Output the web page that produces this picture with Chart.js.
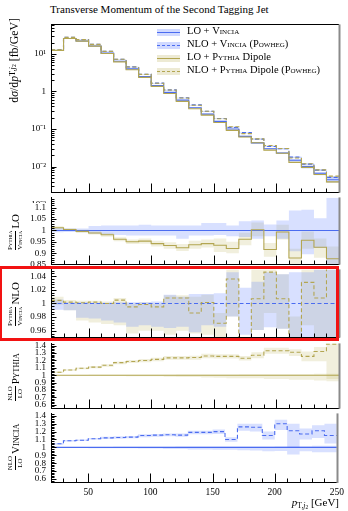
<!DOCTYPE html>
<html>
<head>
<meta charset="utf-8">
<script src="https://cdn.jsdelivr.net/npm/chart.js@4.4.1/dist/chart.umd.min.js"></script>
<style>
  html, body { margin: 0; padding: 0; background: #fff; }
  #wrap { position: relative; width: 348px; height: 511px; overflow: hidden;
          font-family: "Liberation Serif", "DejaVu Serif", serif; color: #000; }
  .panel { position: absolute; left: 0; width: 348px; }
  .sc { font-variant: small-caps; }
  .title { position: absolute; left: 50px; top: 3px; font-size: 11px; white-space: nowrap; }
  .ylab { position: absolute; transform: rotate(-90deg); white-space: nowrap;
          display: flex; align-items: center; justify-content: center; }
  .frac { display: inline-flex; flex-direction: column; align-items: center;
          font-size: 7px; line-height: 1; margin-right: 2px; }
  .frac span:first-child { border-bottom: 0.7px solid #000; padding-bottom: 1px; }
  .frac span:last-child { padding-top: 1px; }
  .legend { position: absolute; left: 157px; top: 26px; font-size: 10.5px; }
  .legend .row { position: relative; height: 13px; white-space: nowrap; }
  .legend .sw { position: absolute; left: 0; top: 3px; width: 23px; height: 7px; }
  .legend .sw i { position: absolute; left: 0; right: 0; top: 3px; height: 0; }
  .legend .txt { position: absolute; left: 30px; top: -1px; }
  .xlab { position: absolute; right: 9px; top: 496px; font-size: 11px; }
  sub { font-size: 70%; vertical-align: -0.25em; line-height: 0; }
  #mark { position: absolute; left: -1px; top: 266px; width: 340px; height: 75px;
          border: 3px solid #f21212; box-sizing: border-box; }
</style>
</head>
<body>
<div id="wrap">
  <div class="title">Transverse Momentum of the Second Tagging Jet</div>

  <div class="panel" style="top:14px;height:189px"><canvas id="cMain"></canvas></div>
  <div class="panel" style="top:187px;height:88px"><canvas id="cLo"></canvas></div>
  <div class="panel" style="top:259px;height:89px"><canvas id="cNlo"></canvas></div>
  <div class="panel" style="top:333px;height:86px"><canvas id="cPy"></canvas></div>
  <div class="panel" style="top:403px;height:108px"><canvas id="cVi"></canvas></div>

  <div class="ylab" style="left:-46px;top:67px;width:120px;height:18px;justify-content:flex-end;box-sizing:border-box;padding-right:2px;font-size:11.8px">
    d<i>σ</i>/d<i>p</i><sub>T,<i>j</i><sub>2</sub></sub>&nbsp;[fb/GeV]
  </div>
  <div class="ylab" style="left:-18px;top:223px;width:66px;height:18px;font-size:11px">
    <span class="frac"><span class="sc">Pythia</span><span class="sc">Vincia</span></span>LO
  </div>
  <div class="ylab" style="left:-21px;top:295px;width:72px;height:18px;font-size:11px">
    <span class="frac"><span class="sc">Pythia</span><span class="sc">Vincia</span></span>NLO
  </div>
  <div class="ylab" style="left:-18px;top:368px;width:66px;height:18px;font-size:11px">
    <span class="frac"><span>NLO</span><span>LO</span></span><span class="sc">Pythia</span>
  </div>
  <div class="ylab" style="left:-18px;top:438px;width:66px;height:18px;font-size:11px">
    <span class="frac"><span>NLO</span><span>LO</span></span><span class="sc">Vincia</span>
  </div>

  <div class="legend">
    <div class="row"><div class="sw" style="background:rgba(100,130,255,0.3)"><i style="border-top:1.3px solid #4b6cf0"></i></div><div class="txt">LO + <span class="sc">Vincia</span></div></div>
    <div class="row"><div class="sw" style="background:rgba(100,130,255,0.3)"><i style="border-top:1.3px dashed #4b6cf0"></i></div><div class="txt">NLO + <span class="sc">Vincia</span> (<span class="sc">Powheg</span>)</div></div>
    <div class="row"><div class="sw" style="background:rgba(190,180,100,0.28)"><i style="border-top:1.3px solid #b3a652"></i></div><div class="txt">LO + <span class="sc">Pythia</span> Dipole</div></div>
    <div class="row"><div class="sw" style="background:rgba(190,180,100,0.28)"><i style="border-top:1.3px dashed #b3a652"></i></div><div class="txt">NLO + <span class="sc">Pythia</span> Dipole (<span class="sc">Powheg</span>)</div></div>
  </div>

  <div class="xlab"><i>p</i><sub>T,<i>j</i><sub>2</sub></sub> [GeV]</div>
  <div id="mark"></div>
</div>

<script>
// bin edges in GeV (10 GeV bins)
const EDGES = [20, 30, 40, 50, 60, 70, 80, 90, 100, 110, 120, 130, 140, 150, 160, 170,
               180, 190, 200, 210, 220, 230, 240, 250];
const X_LABELS = [50, 100, 150, 200, 250];

// dσ/dpT per bin [fb/GeV]
const LO_VINCIA = [12.3, 25.7, 22, 16.3, 10.5, 6.4, 4.0, 2.5, 1.45, 0.95, 0.59, 0.37, 0.25,
                   0.16, 0.10, 0.064, 0.043, 0.030, 0.023, 0.0148, 0.010, 0.0067, 0.0045];
const NLO_VINCIA = [12.87, 27.88, 23.98, 18.09, 11.76, 7.2, 4.52, 2.875, 1.675, 1.102, 0.681,
                    0.440, 0.2975, 0.192, 0.110, 0.0806, 0.0540, 0.0345, 0.0299, 0.0179,
                    0.0117, 0.0081, 0.00518];
const LO_PYTHIA = [12.45, 25.8, 21.91, 16.12, 10.3, 6.15, 3.8, 2.38, 1.366, 0.887, 0.545,
                   0.347, 0.2355, 0.1496, 0.0921, 0.0615, 0.0431, 0.0275, 0.0228, 0.0130,
                   0.00957, 0.0062, 0.00394];
const NLO_PYTHIA = [12.95, 27.6, 23.99, 17.89, 11.69, 7.2, 4.5, 2.856, 1.66, 1.095, 0.673,
                    0.430, 0.2967, 0.1877, 0.1156, 0.0756, 0.0547, 0.0366, 0.0303, 0.0170,
                    0.0120, 0.0082, 0.0056];

// Pythia LO / Vincia LO
const R_LO = [1.012, 1.004, 0.996, 0.989, 0.981, 0.961, 0.950, 0.953, 0.942, 0.934, 0.924,
              0.937, 0.942, 0.935, 0.921, 0.961, 1.003, 0.916, 0.993, 0.879, 0.957, 0.926, 0.876];
const R_LO_VBAND_LO = [0.992, 0.993, 0.992, 0.985, 0.981, 0.980, 0.978, 0.978, 0.978, 0.978, 0.964,
                       0.978, 0.978, 0.980, 0.975, 0.971, 0.964, 0.975, 0.964, 0.909, 0.895, 0.923, 0.84];
const R_LO_VBAND_HI = [1.011, 1.008, 1.008, 1.019, 1.022, 1.022, 1.022, 1.025, 1.022, 1.022, 1.022,
                       1.022, 1.033, 1.033, 1.022, 1.040, 1.044, 1.026, 1.044, 1.088, 1.091, 1.054, 1.143];
const R_LO_PBAND_LO = [1.004, 0.997, 0.99, 0.982, 0.972, 0.952, 0.94, 0.942, 0.93, 0.92, 0.91,
                       0.92, 0.925, 0.905, 0.9, 0.935, 0.975, 0.885, 0.96, 0.84, 0.92, 0.88, 0.82];
const R_LO_PBAND_HI = [1.018, 1.01, 1.003, 0.996, 0.99, 0.97, 0.96, 0.965, 0.955, 0.948, 0.94,
                       0.955, 0.96, 0.965, 0.95, 0.99, 1.035, 0.945, 1.025, 0.92, 0.995, 0.965, 0.93];

// Pythia NLO / Vincia NLO
const R_NLO = [1.0046, 1.002, 1.001, 1.002, 1.0, 1.005, 0.995, 0.9986, 0.995, 1.008, 1.008,
               0.986, 1.0014, 0.971, 1.036, 0.945, 1.007, 1.046, 1.007, 0.945, 1.031, 1.008, 1.06];
const R_NLO_VBAND_LO = [0.991, 0.990, 0.979, 0.978, 0.975, 0.972, 0.966, 0.968, 0.966, 0.964, 0.966,
                        0.958, 0.968, 0.966, 0.981, 0.954, 0.961, 0.965, 0.963, 0.951, 0.951, 0.94, 0.94];
const R_NLO_VBAND_HI = [1.006, 1.002, 1.002, 1.001, 1.001, 1.002, 1.002, 1.002, 1.003, 1.013, 1.010,
                        1.014, 1.014, 1.015, 1.046, 1.023, 1.032, 1.046, 1.043, 1.046, 1.046, 1.06, 1.06];
const R_NLO_PBAND_LO = [0.998, 0.99, 0.975, 0.972, 0.97, 0.968, 0.956, 0.96, 0.96, 0.954, 0.96,
                        0.956, 0.954, 0.951, 0.981, 0.92, 0.961, 0.986, 0.963, 0.93, 0.968, 0.94, 0.94];
const R_NLO_PBAND_HI = [1.01, 1.005, 1.004, 1.004, 1.003, 1.008, 1.0, 1.002, 1.0, 1.012, 1.012,
                        1.01, 1.013, 0.986, 1.06, 0.95, 1.06, 1.06, 1.043, 0.981, 1.06, 1.06, 1.06];

// NLO / LO, Pythia Dipole
const K_PYTHIA = [1.04, 1.07, 1.095, 1.11, 1.135, 1.17, 1.185, 1.2, 1.215, 1.235, 1.235, 1.24,
                  1.26, 1.255, 1.255, 1.23, 1.27, 1.33, 1.33, 1.31, 1.255, 1.32, 1.42];
const K_PYTHIA_BAND_LO = [1.03, 1.06, 1.08, 1.095, 1.115, 1.15, 1.165, 1.175, 1.19, 1.21, 1.21, 1.21,
                          1.23, 1.225, 1.225, 1.2, 1.23, 1.29, 1.29, 1.26, 1.19, 1.19, 0.95];
const K_PYTHIA_BAND_HI = [1.05, 1.08, 1.105, 1.125, 1.15, 1.185, 1.205, 1.22, 1.235, 1.26, 1.26, 1.265,
                          1.29, 1.285, 1.285, 1.26, 1.31, 1.37, 1.37, 1.35, 1.32, 1.38, 1.5];
const K_PYTHIA_LOBAND_LO = [0.995, 0.995, 0.994, 0.993, 0.99, 0.99, 0.988, 0.985, 0.985, 0.98, 0.975,
                            0.975, 0.97, 0.965, 0.96, 0.96, 0.96, 0.95, 0.95, 0.94, 0.94, 0.93, 0.92];
const K_PYTHIA_LOBAND_HI = [1.005, 1.005, 1.005, 1.006, 1.006, 1.007, 1.007, 1.008, 1.008, 1.008, 1.01,
                            1.01, 1.01, 1.01, 1.01, 1.012, 1.012, 1.012, 1.015, 1.015, 1.015, 1.02, 1.02];

// NLO / LO, Vincia
const K_VINCIA = [1.046, 1.085, 1.09, 1.11, 1.12, 1.125, 1.13, 1.15, 1.155, 1.16, 1.155, 1.19,
                  1.19, 1.2, 1.10, 1.26, 1.255, 1.15, 1.30, 1.21, 1.17, 1.21, 1.15];
const K_VINCIA_BAND_LO = [1.035, 1.075, 1.08, 1.1, 1.105, 1.11, 1.115, 1.13, 1.135, 1.14, 1.135, 1.165,
                          1.165, 1.17, 1.07, 1.21, 1.2, 1.1, 1.22, 1.0, 1.1, 1.12, 1.05];
const K_VINCIA_BAND_HI = [1.056, 1.095, 1.1, 1.12, 1.135, 1.14, 1.145, 1.165, 1.17, 1.175, 1.175, 1.21,
                          1.21, 1.225, 1.13, 1.3, 1.3, 1.2, 1.35, 1.3, 1.24, 1.28, 1.3];
const K_VINCIA_LOBAND_LO = [0.995, 0.995, 0.993, 0.99, 0.99, 0.99, 0.988, 0.985, 0.985, 0.98, 0.98,
                            0.975, 0.975, 0.97, 0.97, 0.965, 0.96, 0.95, 0.955, 0.91, 0.95, 0.94, 0.94];
const K_VINCIA_LOBAND_HI = [1.005, 1.005, 1.005, 1.006, 1.006, 1.007, 1.007, 1.008, 1.008, 1.008, 1.01,
                            1.01, 1.01, 1.01, 1.01, 1.012, 1.012, 1.012, 1.015, 1.015, 1.015, 1.02, 1.02];

const BLUE = '#4b6cf0';
const OLIVE = '#b3a652';
const BLUE_BAND = 'rgba(100,130,255,0.25)';
const OLIVE_BAND = 'rgba(190,180,100,0.22)';
const TICK_FONT = { family: 'Liberation Serif', size: 9 };
const PAD = 8;

// histogram: one point per left edge plus a closing point on the last edge
function steps(vals) {
  const pts = vals.map((v, i) => ({ x: EDGES[i], y: v }));
  pts.push({ x: EDGES[vals.length], y: vals[vals.length - 1] });
  return pts;
}
function line(vals, color, dashed) {
  return { data: steps(vals), borderColor: color, borderWidth: 1.1, borderDash: dashed ? [4, 2.5] : [],
           stepped: true, pointRadius: 0, fill: false, order: 0 };
}
function band(lo, hi, color) {
  return [
    { data: steps(hi), borderWidth: 0, pointRadius: 0, stepped: true, fill: '+1', backgroundColor: color, order: 1 },
    { data: steps(lo), borderWidth: 0, pointRadius: 0, stepped: true, fill: false, order: 1 },
  ];
}
const scaleBy = (vals, f, g) => vals.map((v, i) => v * f[i] / (g ? g[i] : 1));
const UNIT = LO_VINCIA.map(() => 1);

const fmt = v => String(Math.round(v * 1000) / 1000);
function linTicks(from, to, step, every) {
  const out = [];
  for (let i = Math.round(from / step); i <= Math.round(to / step); i++) {
    const v = i * step;
    out.push({ value: v, major: i % every === 0 });
  }
  return out;
}
function logTicks() {
  const out = [];
  for (let e = -3; e <= 1; e++) for (let m = 1; m <= 9; m++) out.push({ value: m * Math.pow(10, e), major: m === 1 });
  return out;
}
const SUP = { '-3': '10⁻³', '-2': '10⁻²', '-1': '10⁻¹', '0': '1', '1': '10¹' };

// inward tick marks and frame for each panel
const frame = {
  id: 'frame',
  afterDraw(chart) {
    const { ctx, chartArea: a, scales: { x, y } } = chart;
    const L = Math.round(a.left) + 0.5, R = Math.round(a.right), B = Math.round(a.bottom) - 0.5, T = Math.round(a.top) + 0.5;
    ctx.save();
    ctx.strokeStyle = '#000';
    ctx.lineWidth = 1;
    ctx.beginPath();
    for (const t of chart.options.plugins.frame.yTicks) {
      const py = Math.round(y.getPixelForValue(t.value)) + 0.5;
      if (py < a.top || py > a.bottom) continue;
      ctx.moveTo(L, py); ctx.lineTo(L + (t.major ? 5 : 3), py);
    }
    for (const e of EDGES) {
      const px = Math.round(x.getPixelForValue(e)) + 0.5;
      ctx.moveTo(px, B); ctx.lineTo(px, B - (X_LABELS.includes(e) ? 9 : 4));
    }
    ctx.moveTo(L, T - 0.5); ctx.lineTo(L, B + 0.5);
    ctx.moveTo(L, B); ctx.lineTo(R, B);
    if (chart.options.plugins.frame.top) { ctx.moveTo(L, T); ctx.lineTo(R, T); }
    ctx.stroke();
    ctx.strokeStyle = '#8a8a8a';
    ctx.lineWidth = 2;
    ctx.beginPath();
    ctx.moveTo(R + 0.5, a.top); ctx.lineTo(R + 0.5, a.bottom);
    ctx.stroke();
    ctx.restore();
  }
};

function panel(id, datasets, y, opts) {
  const showX = !!opts.showX;
  return new Chart(document.getElementById(id), {
    type: 'line',
    data: { datasets },
    options: {
      responsive: true, maintainAspectRatio: false, animation: false,
      layout: { padding: { left: 0, right: 9, top: PAD, bottom: showX ? 0 : PAD } },
      plugins: { legend: { display: false }, tooltip: { enabled: false },
                 frame: { yTicks: y.ticks, top: !!opts.top } },
      scales: {
        x: {
          type: 'linear', min: 20, max: 250, display: showX,
          grid: { display: false, drawTicks: false }, border: { display: false },
          afterBuildTicks: s => { s.ticks = X_LABELS.map(v => ({ value: v })); },
          afterFit: s => { s.height = showX ? 28 : 0; },
          ticks: { font: { family: 'Liberation Serif', size: 9.5 }, color: '#000', padding: 4, maxRotation: 0, autoSkip: false },
        },
        y: {
          type: y.type || 'linear', min: y.min, max: y.max,
          grid: { display: false, drawTicks: false }, border: { display: false },
          afterBuildTicks: s => { s.ticks = y.ticks.map(t => ({ value: t.value, major: t.major })); },
          afterFit: s => { s.width = 51; },
          ticks: { font: TICK_FONT, color: '#000', padding: 5, autoSkip: false,
                   callback: (v, i) => (y.ticks[i] && y.ticks[i].major ? y.label(v) : '') },
        },
      },
    },
    plugins: [frame],
  });
}

// main distribution
panel('cMain', [
  line(NLO_PYTHIA, OLIVE, true),
  line(LO_PYTHIA, OLIVE, false),
  line(NLO_VINCIA, BLUE, true),
  line(LO_VINCIA, BLUE, false),
  ...band(scaleBy(LO_VINCIA, R_LO_VBAND_LO), scaleBy(LO_VINCIA, R_LO_VBAND_HI), BLUE_BAND),
  ...band(scaleBy(NLO_VINCIA, R_NLO_VBAND_LO), scaleBy(NLO_VINCIA, R_NLO_VBAND_HI), BLUE_BAND),
  ...band(scaleBy(LO_PYTHIA, R_LO_PBAND_LO, R_LO), scaleBy(LO_PYTHIA, R_LO_PBAND_HI, R_LO), OLIVE_BAND),
  ...band(scaleBy(NLO_PYTHIA, R_NLO_PBAND_LO, R_NLO), scaleBy(NLO_PYTHIA, R_NLO_PBAND_HI, R_NLO), OLIVE_BAND),
], { type: 'logarithmic', min: 0.00204, max: 61, ticks: logTicks(),
     label: v => SUP[String(Math.round(Math.log10(v)))] }, { top: true });

// Pythia / Vincia at LO
panel('cLo', [
  line(R_LO, OLIVE, false),
  line(UNIT, BLUE, false),
  ...band(R_LO_VBAND_LO, R_LO_VBAND_HI, BLUE_BAND),
  ...band(R_LO_PBAND_LO, R_LO_PBAND_HI, OLIVE_BAND),
], { min: 0.85, max: 1.145, ticks: linTicks(0.85, 1.14, 0.01, 5), label: fmt }, {});

// Pythia / Vincia at NLO
panel('cNlo', [
  line(R_NLO, OLIVE, true),
  line(UNIT, BLUE, true),
  ...band(R_NLO_VBAND_LO, R_NLO_VBAND_HI, BLUE_BAND),
  ...band(R_NLO_PBAND_LO, R_NLO_PBAND_HI, OLIVE_BAND),
], { min: 0.95, max: 1.05, ticks: linTicks(0.952, 1.048, 0.004, 5), label: fmt }, {});

// NLO / LO for Pythia
panel('cPy', [
  line(K_PYTHIA, OLIVE, true),
  line(UNIT, OLIVE, false),
  ...band(K_PYTHIA_LOBAND_LO, K_PYTHIA_LOBAND_HI, OLIVE_BAND),
  ...band(K_PYTHIA_BAND_LO, K_PYTHIA_BAND_HI, OLIVE_BAND),
], { min: 0.55, max: 1.43, ticks: linTicks(0.56, 1.42, 0.02, 5), label: fmt }, {});

// NLO / LO for Vincia
panel('cVi', [
  line(K_VINCIA, BLUE, true),
  line(UNIT, BLUE, false),
  ...band(K_VINCIA_LOBAND_LO, K_VINCIA_LOBAND_HI, BLUE_BAND),
  ...band(K_VINCIA_BAND_LO, K_VINCIA_BAND_HI, BLUE_BAND),
], { min: 0.55, max: 1.43, ticks: linTicks(0.56, 1.42, 0.02, 5), label: fmt }, { showX: true });
</script>
</body>
</html>
